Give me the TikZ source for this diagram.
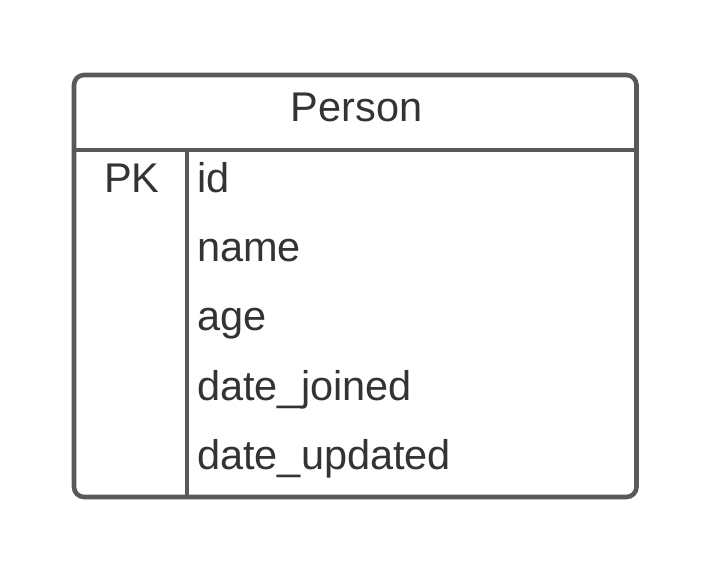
\documentclass[tikz,border=0pt]{standalone}
\usepackage{fontspec}
\setmainfont{Liberation Sans}
\usepackage{tikz}
\definecolor{tableline}{HTML}{595959}
\definecolor{tabletext}{HTML}{333333}

\begin{document}
\begin{tikzpicture}[x=1pt,y=-1pt,
		frame/.style={tableline,line width=4.6pt},
		cell/.style={tabletext,inner sep=0pt,anchor=base west,font=\fontsize{41.5}{48}\selectfont}]
			\useasboundingbox (0,0) rectangle (713,572);
			\draw[frame,rounded corners=10pt] (74,75) rectangle (636.5,497);
			\draw[frame] (74,150) -- (636.5,150) (187,150) -- (187,497);
			\node[cell,anchor=base] (title) at (356.5,121.5) {Person};
			\node[cell] (pk) at (104,193) {PK};
			\foreach \f [count=\i from 0] in {id,name,age,date\_joined,date\_updated}
				\node[cell] (field\i) at (197,193+69*\i) {\f};
		\end{tikzpicture}
\end{document}
